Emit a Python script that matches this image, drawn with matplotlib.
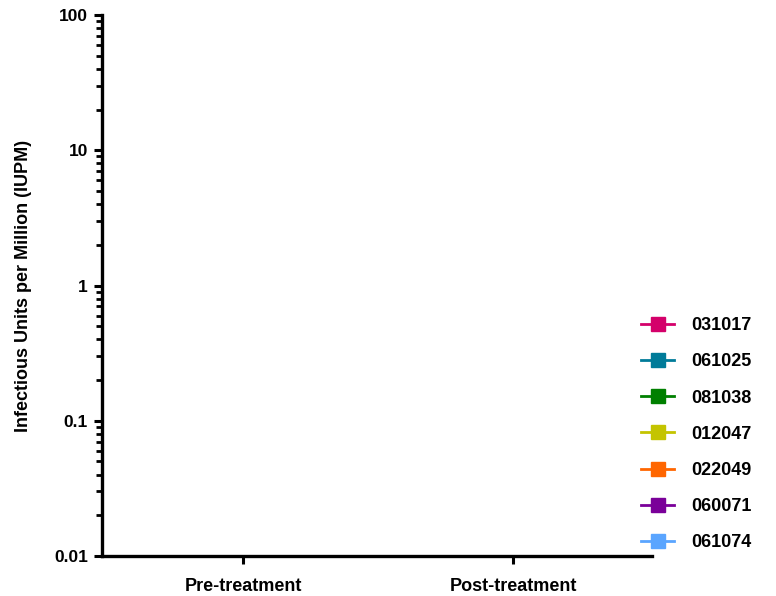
import numpy as np
import matplotlib
matplotlib.use("Agg")
import matplotlib.pyplot as plt
from matplotlib.ticker import LogLocator, FixedLocator, FixedFormatter, NullFormatter

plt.rcParams['font.family'] = ['Liberation Sans', 'DejaVu Sans']

categories = ["Pre-treatment", "Post-treatment"]
series_names = ["031017", "061025", "081038", "012047", "022049", "060071", "061074"]
series_colors = ["#D4006A", "#007B99", "#008000", "#C4C400", "#FF6600", "#7A0099", "#5AA5FF"]
# No values are visible inside the plotted range of the reference chart
series_values = {
    "031017": [np.nan, np.nan],
    "061025": [np.nan, np.nan],
    "081038": [np.nan, np.nan],
    "012047": [np.nan, np.nan],
    "022049": [np.nan, np.nan],
    "060071": [np.nan, np.nan],
    "061074": [np.nan, np.nan],
}
y_ticks = [0.01, 0.1, 1, 10, 100]
y_tick_labels = ["0.01", "0.1", "1", "10", "100"]

fig = plt.figure(figsize=(7.76, 5.96), dpi=100)
ax = fig.add_axes([102/776, 40/596, 550/776, 541/596])

x = np.arange(len(categories))
for name, col in zip(series_names, series_colors):
    ax.plot(x, series_values[name], color=col, marker='s', markersize=10,
            linewidth=2, label=name)

ax.set_yscale('log')
ax.set_ylim(0.01, 100)
ax.set_xlim(-0.522, 1.515)
ax.yaxis.set_major_locator(FixedLocator(y_ticks))
ax.yaxis.set_major_formatter(FixedFormatter(y_tick_labels))
ax.yaxis.set_minor_locator(LogLocator(base=10, subs=np.arange(2, 10)))
ax.yaxis.set_minor_formatter(NullFormatter())
ax.set_xticks(x)
ax.set_xticklabels(categories, fontsize=13, fontweight='bold')
for lbl in ax.get_yticklabels():
    lbl.set_fontsize(12.5)
    lbl.set_fontweight('bold')

for s in ['top', 'right']:
    ax.spines[s].set_visible(False)
for s in ['left', 'bottom']:
    ax.spines[s].set_linewidth(2.4)
ax.tick_params(axis='both', which='major', length=6, width=2.2, direction='out', pad=4)
ax.tick_params(axis='y', which='minor', length=4, width=2.0, direction='out')
ax.tick_params(axis='x', pad=10)

ax.set_ylabel("Infectious Units per Million (IUPM)", fontsize=13, fontweight='bold')
ax.yaxis.set_label_coords(-0.128, 0.5)

leg = ax.legend(loc='center left', bbox_to_anchor=(0.967, 0.225), frameon=False,
                prop={'weight': 'bold', 'size': 13}, handlelength=1.85,
                labelspacing=1.06, handletextpad=0.92, borderaxespad=0)

fig.savefig("out.png", dpi=100)
